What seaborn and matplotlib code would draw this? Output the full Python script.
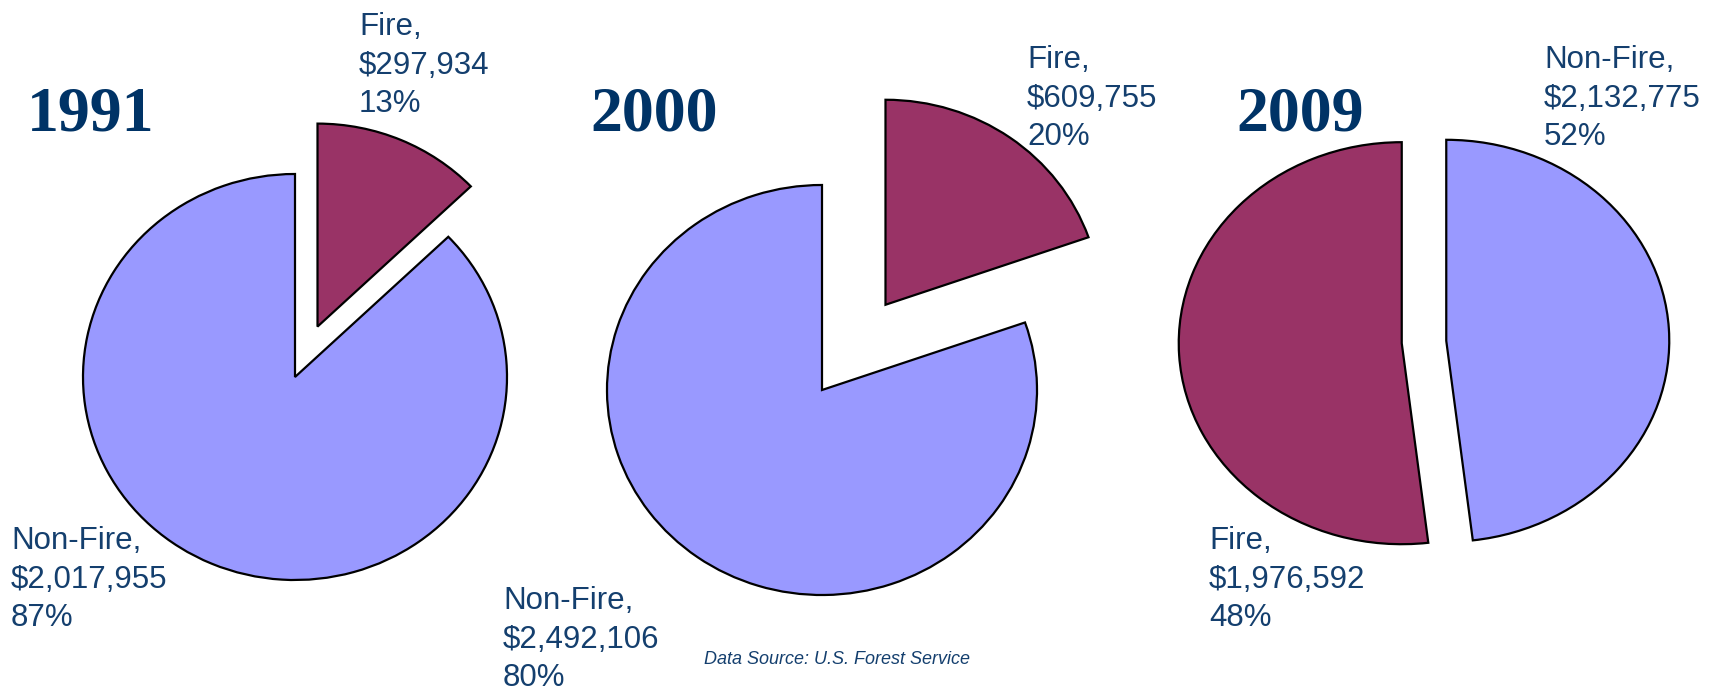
import matplotlib
matplotlib.use("Agg")
import matplotlib.pyplot as plt
import seaborn as sns

sns.set_theme(style="white")
plt.rcParams['font.family'] = ['Liberation Sans', 'DejaVu Sans']

# ---- data ----
years = ["1991", "2000", "2009"]
categories = ["Fire", "Non-Fire"]
fire_values = [297934, 609755, 1976592]
nonfire_values = [2017955, 2492106, 2132775]
source_text = "Data Source: U.S. Forest Service"

# ---- style ----
FIRE_COLOR = "#993366"
NONFIRE_COLOR = "#9999FF"
TITLE_COLOR = "#003366"
LABEL_COLOR = "#143f6e"

W, H = 1723, 691
fig = plt.figure(figsize=(W / 100, H / 100), dpi=100)
fig.patch.set_facecolor("white")

# pie geometry in pixels: centre x, centre y (from top), radius x, radius y, explode
geoms = [
    dict(cx=295, cy=377, rx=212, ry=203, explode=[0.27, 0.0], order="fire_first"),
    dict(cx=822, cy=390, rx=215, ry=205, explode=[0.51, 0.0], order="fire_first"),
    dict(cx=1424, cy=342, rx=223, ry=201, explode=[0.10, 0.10], order="blue_first"),
]

L = 1.65
for i, g in enumerate(geoms):
    ax = fig.add_axes([(g["cx"] - L * g["rx"]) / W, (H - g["cy"] - L * g["ry"]) / H,
                       2 * L * g["rx"] / W, 2 * L * g["ry"] / H])
    vals = [fire_values[i], nonfire_values[i]]
    if g["order"] == "fire_first":
        cols = [FIRE_COLOR, NONFIRE_COLOR]
    else:
        cols = [NONFIRE_COLOR, FIRE_COLOR]
    ax.pie(vals, explode=g["explode"], colors=cols, startangle=90, counterclock=False,
           radius=1.0, wedgeprops=dict(edgecolor="black", linewidth=1.6))
    ax.set_aspect("auto")
    ax.set_xlim(-L, L)
    ax.set_ylim(-L, L)
    ax.set_axis_off()

# overlay axes for text in pixel coordinates
tax = fig.add_axes([0, 0, 1, 1])
tax.set_xlim(0, W)
tax.set_ylim(H, 0)
tax.set_axis_off()
tax.patch.set_alpha(0)

title_pos = [(27, 130), (590, 130), (1236, 130)]
for yr, (x, y) in zip(years, title_pos):
    tax.text(x, y, yr, fontsize=46, fontweight="bold", color=TITLE_COLOR,
             family=["Liberation Serif", "DejaVu Serif"], va="baseline", ha="left")

LS = 38.5
def label(x, y0, name, value, total):
    pct = round(100 * value / total)
    lines = [f"{name},", f"${value:,}", f"{pct}%"]
    for k, s in enumerate(lines):
        tax.text(x, y0 + k * LS, s, fontsize=22.5, color=LABEL_COLOR,
                 va="baseline", ha="left")

totals = [f + n for f, n in zip(fire_values, nonfire_values)]
# 1991
label(359, 35, categories[0], fire_values[0], totals[0])
label(11, 549, categories[1], nonfire_values[0], totals[0])
# 2000
label(1027, 68, categories[0], fire_values[1], totals[1])
label(503, 609, categories[1], nonfire_values[1], totals[1])
# 2009
label(1544, 68, categories[1], nonfire_values[2], totals[2])
label(1209, 549, categories[0], fire_values[2], totals[2])

tax.text(704, 664, source_text, fontsize=13, style="italic", color=LABEL_COLOR,
         family=["Liberation Sans Narrow", "Liberation Sans"], va="baseline", ha="left")

fig.savefig("out.png", dpi=100, facecolor="white")
